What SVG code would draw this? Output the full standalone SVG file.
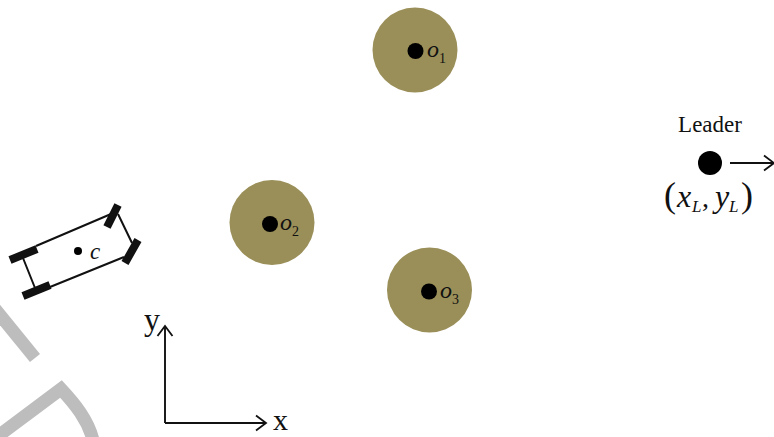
<svg xmlns="http://www.w3.org/2000/svg" width="774" height="437" viewBox="0 0 774 437">
<defs>
<marker id="arr" markerUnits="userSpaceOnUse" markerWidth="16" markerHeight="18" refX="14" refY="9" orient="auto"><path d="M4 1.500L14 9L4 16.500" fill="none" stroke="#111" stroke-width="1.800"/></marker>
</defs>
<style>
.t{font-family:"Liberation Serif",serif;fill:#111}
.i{font-style:italic}
.o{font-size:24px;font-style:italic}
.s{font-size:14px;font-style:normal}
.obs{fill:#9a8f58}
.dot{fill:#000}
.wm{fill:none;stroke:#bdbdbd;stroke-width:13}
.ax{fill:none;stroke:#111;stroke-width:1.900;marker-end:url(#arr)}
.body{fill:none;stroke:#111;stroke-width:2}
.wheel{stroke:#111;stroke-width:8;fill:none}
</style>
<rect width="774" height="437" fill="#fff"/>
<g id="watermark">
<path class="wm" d="M-6 307.600L35 358"/>
<path class="wm" d="M-6 439L61 389C75 404 88 420 93 440"/>
</g>
<g id="obstacle1"><circle class="obs" cx="415" cy="50" r="42.500"/><circle class="dot" cx="415.500" cy="51" r="8"/><text class="t o" x="427" y="57">o<tspan class="s" dy="6">1</tspan></text></g>
<g id="obstacle2"><circle class="obs" cx="272" cy="222.500" r="42.500"/><circle class="dot" cx="270" cy="224" r="8"/><text class="t o" x="280" y="230">o<tspan class="s" dy="6">2</tspan></text></g>
<g id="obstacle3"><circle class="obs" cx="429.500" cy="290" r="42.500"/><circle class="dot" cx="429" cy="291.500" r="8"/><text class="t o" x="440" y="298">o<tspan class="s" dy="6">3</tspan></text></g>
<g id="leader">
<text class="t" x="710" y="132" font-size="23" text-anchor="middle">Leader</text>
<circle class="dot" cx="710" cy="163" r="12"/>
<text class="t" x="664" y="207" font-size="36">(</text>
<text class="t i" x="677" y="207" font-size="32">x</text><text class="t i" x="692" y="212" font-size="17">L</text>
<text class="t" x="702" y="207" font-size="28">,</text>
<text class="t i" x="715" y="207" font-size="32">y</text><text class="t i" x="729" y="212" font-size="17">L</text>
<text class="t" x="741" y="207" font-size="36">)</text>
</g>
<g id="robot">
<path class="body" d="M36 246L111 214M50 287L124 257M23 258L35 288M118 214L132 243"/>
<path class="wheel" d="M10 260L37 249M23 296L50 285M107 227L118 205M125 263L138 240"/>
<circle class="dot" cx="78" cy="251" r="4"/>
<text class="t i" x="90" y="259" font-size="23">c</text>
</g>
<g id="connectors">
<path class="ax" d="M165 423V326"/>
<path class="ax" d="M165 423H266"/>
<path class="ax" d="M730 163H774"/>
</g>
<text class="t" x="144" y="330" font-size="32">y</text>
<text class="t" x="273" y="430" font-size="30">x</text>
</svg>
